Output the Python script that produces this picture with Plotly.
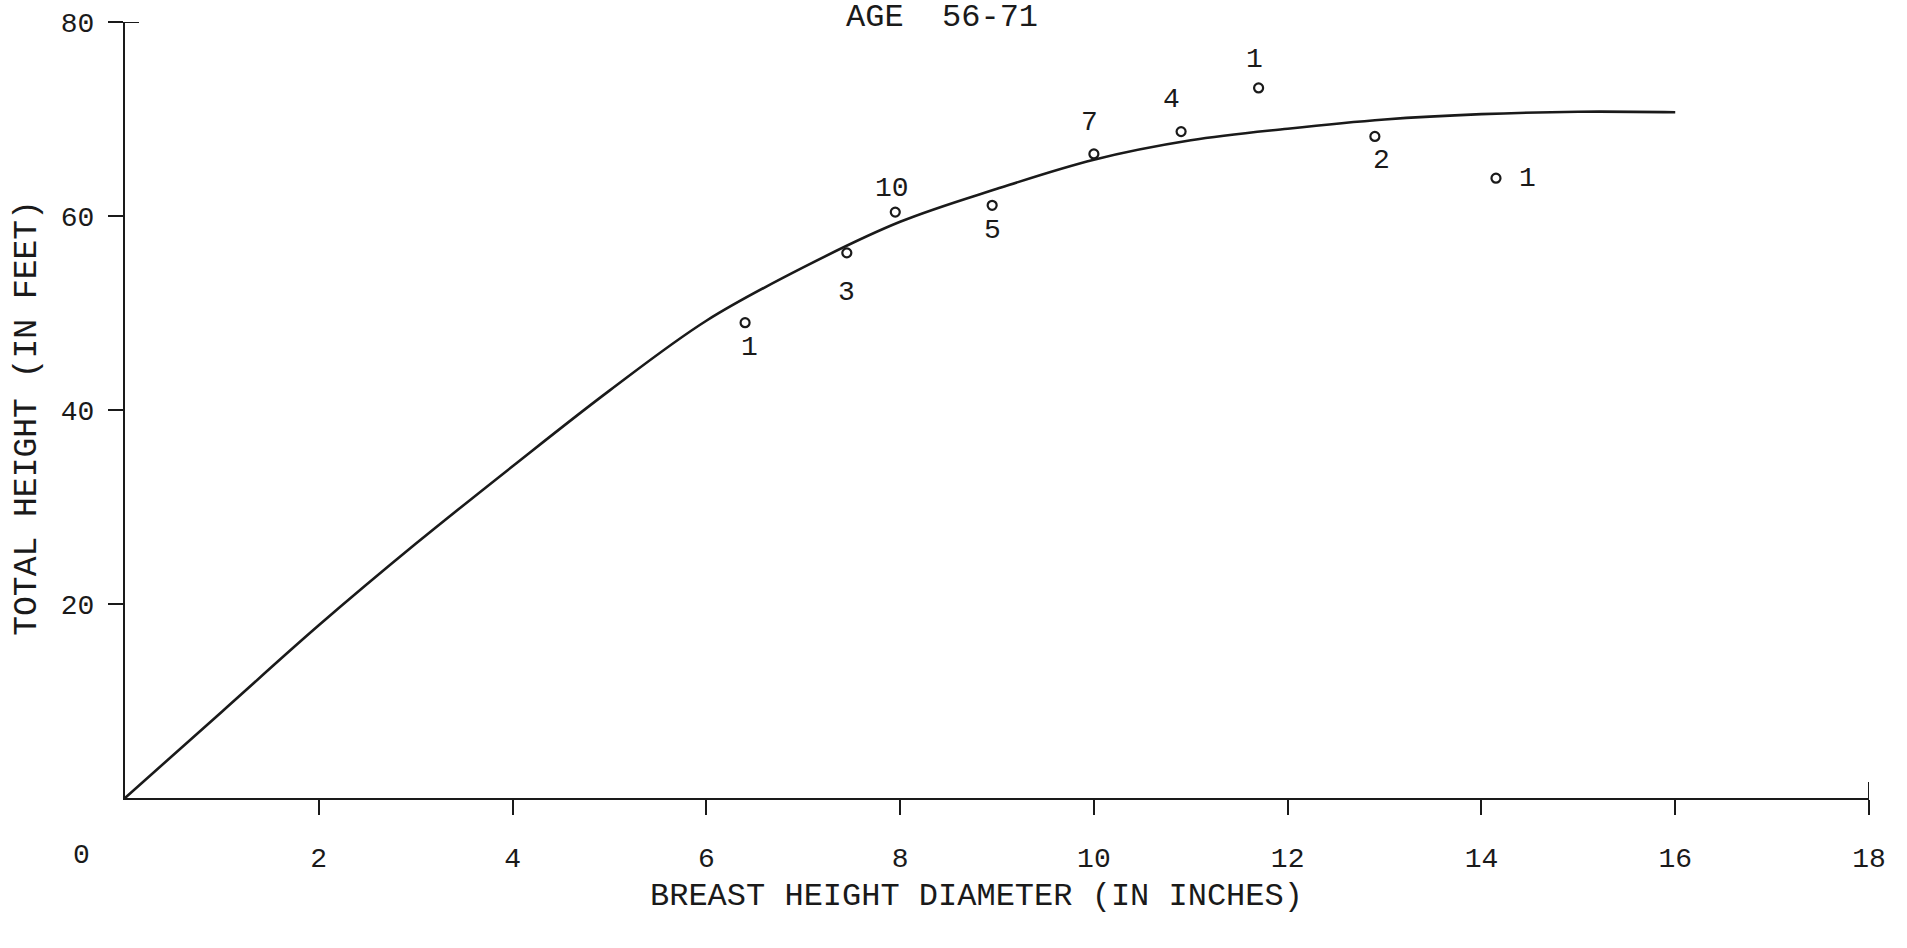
import plotly.graph_objects as go

# ---- data ----
curve_x = [0, 1, 2, 3, 4, 5, 6, 7, 8, 9, 10, 11, 12, 13, 14, 15, 16]
curve_y = [0, 8.9, 17.8, 26.2, 34.2, 42.0, 49.2, 54.7, 59.4, 62.8, 65.8, 67.8, 69.0, 69.95, 70.5, 70.75, 70.7]

obs_dbh = [6.4, 7.45, 7.95, 8.95, 10.0, 10.9, 11.7, 12.9, 14.15]
obs_height = [49.0, 56.2, 60.4, 61.1, 66.4, 68.7, 73.2, 68.2, 63.9]
obs_count = ["1", "3", "10", "5", "7", "4", "1", "2", "1"]

x_ticks = [2, 4, 6, 8, 10, 12, 14, 16, 18]
y_ticks = [20, 40, 60, 80]

title_text = "AGE  56-71"
x_title = "BREAST HEIGHT DIAMETER (IN INCHES)"
y_title = "TOTAL HEIGHT (IN FEET)"

# label placement offsets (pixels) for each count label
label_dx = [4, 0, -3, 0, -4, -10, -4, 7, 32]
label_dy = [-25, -40, 24, -25, 31, 32, 28, -24, 0]

FONT = "Liberation Mono, Courier New, monospace"
INK = "#1a1a1a"

fig = go.Figure()
fig.add_trace(go.Scatter(
    x=curve_x, y=curve_y, mode="lines",
    line=dict(color=INK, width=2.6, shape="spline", smoothing=1.0),
    hoverinfo="skip", showlegend=False,
))
fig.add_trace(go.Scatter(
    x=obs_dbh, y=obs_height, mode="markers",
    marker=dict(symbol="circle-open", size=9, color=INK, line=dict(width=2.2, color=INK)),
    showlegend=False,
))

for xv, yv, t, dx, dy in zip(obs_dbh, obs_height, obs_count, label_dx, label_dy):
    fig.add_annotation(x=xv, y=yv, xref="x", yref="y", text=t, showarrow=False,
                       xshift=dx, yshift=dy, font=dict(family=FONT, size=28, color=INK))

# origin "0" label (placed left of the corner as in the original)
fig.add_annotation(x=0, y=0, xref="x", yref="y", text="0", showarrow=False,
                   xshift=-44, yshift=-57, font=dict(family=FONT, size=28, color=INK))

# title
fig.add_annotation(x=0.4685, y=1, xref="paper", yref="paper", text=title_text, showarrow=False,
                   yshift=5, xanchor="center", yanchor="middle",
                   font=dict(family=FONT, size=32, color=INK))
# x axis title
fig.add_annotation(x=0.488, y=0, xref="paper", yref="paper", text=x_title, showarrow=False,
                   yshift=-98, xanchor="center", yanchor="middle",
                   font=dict(family=FONT, size=32, color=INK))
# y axis title
fig.add_annotation(x=0, y=0.49, xref="paper", yref="paper", text=y_title, showarrow=False,
                   xshift=-97, textangle=-90, xanchor="center", yanchor="middle",
                   font=dict(family=FONT, size=33, color=INK))

# axis end caps
fig.add_shape(type="line", xref="x", yref="y", x0=18, x1=18, ysizemode="pixel",
              yanchor=0, y0=0, y1=16, line=dict(color=INK, width=2))
fig.add_shape(type="line", xref="x", yref="y", y0=80, y1=80, xsizemode="pixel",
              xanchor=0, x0=0, x1=14, line=dict(color=INK, width=2))

fig.update_xaxes(
    range=[0, 18], tickvals=x_ticks, ticktext=[str(v) for v in x_ticks],
    showline=True, linecolor=INK, linewidth=2, showgrid=False, zeroline=False,
    ticks="outside", ticklen=15, tickwidth=2, tickcolor=INK,
    ticklabelstandoff=18, automargin=False,
    tickfont=dict(family=FONT, size=28, color=INK),
)
fig.update_yaxes(
    range=[0, 80], tickvals=y_ticks, ticktext=[str(v) for v in y_ticks],
    showline=True, linecolor=INK, linewidth=2, showgrid=False, zeroline=False,
    ticks="outside", ticklen=15, tickwidth=2, tickcolor=INK,
    ticklabelstandoff=8, automargin=False,
    tickfont=dict(family=FONT, size=28, color=INK),
)

fig.update_layout(
    width=1907, height=948,
    margin=dict(l=125, r=38, t=22, b=150),
    paper_bgcolor="white", plot_bgcolor="white",
    showlegend=False,
)

# remove the browser's default page margin so the figure fills the window exactly
fig.write_html(
    "out.html",
    config={"displayModeBar": False},
    post_script="document.body.style.margin='0';document.body.style.overflow='hidden';",
)
